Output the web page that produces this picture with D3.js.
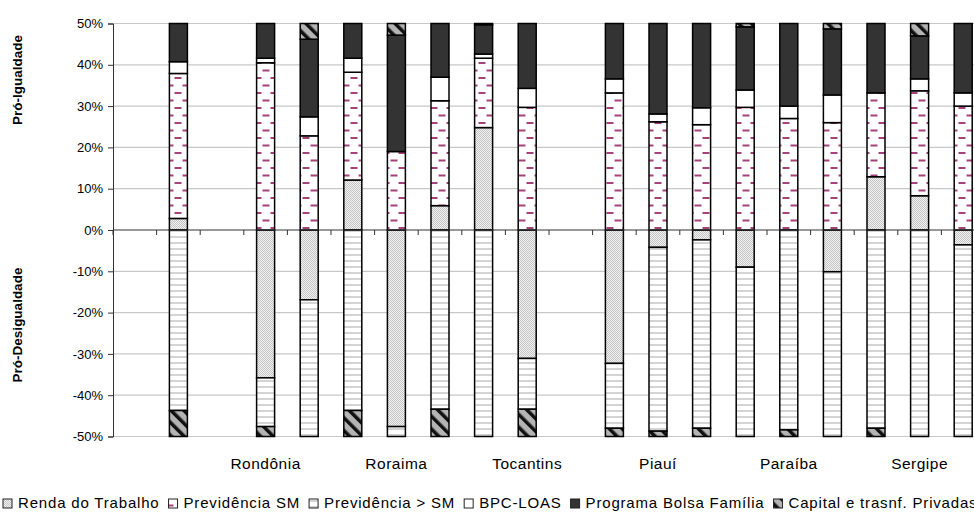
<!DOCTYPE html>
<html>
<head>
<meta charset="utf-8">
<title>Pró-Igualdade / Pró-Desigualdade</title>
<script src="https://cdn.jsdelivr.net/npm/d3@7/dist/d3.min.js"></script>
<style>
  body { margin: 0; background: #fff; }
  text { font-family: "Liberation Sans", Arial, sans-serif; fill: #000; }
</style>
</head>
<body>
<script>
// categorias (indices sem nome = espacos vazios no grafico)
var categories = ["", "Brasil", "", "Rondônia", "Acre", "Amazonas", "Roraima", "Pará", "Amapá", "Tocantins", "",
                  "Maranhão", "Piauí", "Ceará", "Rio Grande do Norte", "Paraíba", "Pernambuco", "Alagoas", "Sergipe", "Bahia"]
var labelEvery = 3

var seriesNames = ["Renda do Trabalho", "Previdência SM", "Previdência > SM", "BPC-LOAS", "Programa Bolsa Família", "Capital e trasnf. Privadas"]

// contribuicoes (%)
var rendaTrabalho = [null, 2.8, null, -35.8, -16.9, 12.1, -47.6, 5.9, 24.8, -31.1, null, -32.3, -4.2, -2.4, -9.0, 0, -10.1, 12.9, 8.3, -3.6]
var prevSM        = [null, 35.1, null, 40.5, 22.8, 26.1, 19.0, 25.4, 16.8, 29.7, null, 33.2, 26.2, 25.5, 29.7, 27.0, 26.0, 20.3, 25.4, 30.0]
var prevMaiorSM   = [null, -43.7, null, -11.8, -33.1, -43.7, -2.4, -43.4, -50.0, -12.3, null, -15.7, -44.5, -45.6, -41.0, -48.4, -39.9, -48.0, -50.0, -46.4]
var bpcLoas       = [null, 2.85, null, 1.1, 4.6, 3.4, 0, 5.7, 1.0, 4.6, null, 3.4, 1.9, 4.1, 4.2, 3.0, 6.7, 0, 2.9, 3.2]
var bolsaFamilia  = [null, 9.25, null, 8.4, 18.8, 8.4, 28.2, 13.0, 7.1, 15.7, null, 13.4, 21.9, 20.4, 15.3, 20.0, 16.0, 16.8, 10.4, 16.8]
var capital       = [null, -6.3, null, -2.4, 3.8, -6.3, 2.8, -6.6, 0.3, -6.6, null, -2.0, -1.3, -2.0, 0.8, -1.6, 1.3, -2.0, 3.0, 0]

var yTicks = [-50, -40, -30, -20, -10, 0, 10, 20, 30, 40, 50]

var width = 974
var height = 519
var plotLeft = 113, plotTop = 23.5, plotBottom = 436.5
var catW = 43.6
var barW = 18

var allSeries = [rendaTrabalho, prevSM, prevMaiorSM, bpcLoas, bolsaFamilia, capital]
var rows = categories.map(function(c, i) {
    var r = {idx: i}
    seriesNames.forEach(function(s, k) { r[s] = allSeries[k][i] || 0 })
    return r
})

var svg = d3.select("body").append("svg").attr("width", width).attr("height", height)
var defs = svg.append("defs")

// padroes de preenchimento
var p = defs.append("pattern").attr("id", "pat0").attr("patternUnits", "userSpaceOnUse").attr("width", 2).attr("height", 2)
p.append("rect").attr("width", 2).attr("height", 2).attr("fill", "#f2f2f2")
p.append("rect").attr("width", 1).attr("height", 1).attr("fill", "#c4c4c4")
p.append("rect").attr("x", 1).attr("y", 1).attr("width", 1).attr("height", 1).attr("fill", "#c4c4c4")

p = defs.append("pattern").attr("id", "pat1").attr("patternUnits", "userSpaceOnUse").attr("width", 16).attr("height", 15).attr("x", 170)
p.append("rect").attr("width", 16).attr("height", 15).attr("fill", "#fff")
p.append("rect").attr("x", 4.5).attr("y", 2).attr("width", 7).attr("height", 2).attr("fill", "#a5427a")
p.append("rect").attr("x", -3.5).attr("y", 9.5).attr("width", 7).attr("height", 2).attr("fill", "#a5427a")
p.append("rect").attr("x", 12.5).attr("y", 9.5).attr("width", 7).attr("height", 2).attr("fill", "#a5427a")

p = defs.append("pattern").attr("id", "pat2").attr("patternUnits", "userSpaceOnUse").attr("width", 6).attr("height", 6)
p.append("rect").attr("width", 6).attr("height", 6).attr("fill", "#fff")
p.append("rect").attr("y", 2).attr("width", 6).attr("height", 2).attr("fill", "#d4d4d4")

p = defs.append("pattern").attr("id", "pat5").attr("patternUnits", "userSpaceOnUse").attr("width", 9).attr("height", 9)
    .attr("patternTransform", "rotate(-45)")
p.append("rect").attr("width", 9).attr("height", 9).attr("fill", "#b4b4b4")
p.append("rect").attr("width", 3.5).attr("height", 9).attr("fill", "#111")

var fills = ["url(#pat0)", "url(#pat1)", "url(#pat2)", "#ffffff", "#333333", "url(#pat5)"]

var x = d3.scaleBand().domain(d3.range(categories.length)).range([plotLeft, plotLeft + catW * categories.length])
var y = d3.scaleLinear().domain([-50, 50]).range([plotBottom, plotTop])

// grade
svg.append("g").selectAll("line").data(yTicks.filter(function(d) { return d != 0 })).enter().append("line")
    .attr("x1", plotLeft).attr("x2", width).attr("y1", function(d) { return y(d) }).attr("y2", function(d) { return y(d) })
    .attr("stroke", "#c8c8c8").attr("stroke-width", 1.2)

// eixo y
var yAxis = svg.append("g").attr("transform", "translate(" + plotLeft + ",0)")
    .call(d3.axisLeft(y).tickValues(yTicks).tickSize(5).tickFormat(function(d) { return d + "%" }))
yAxis.select(".domain").attr("stroke", "#333")
yAxis.selectAll(".tick line").attr("stroke", "#333")
yAxis.selectAll("text").attr("font-size", 13).attr("dx", -2)
    .style("font-family", "'Liberation Sans', Arial, sans-serif")

// barras empilhadas
var stack = d3.stack().keys(seriesNames).offset(d3.stackOffsetDiverging)
var layers = stack(rows)

svg.append("g").selectAll("g").data(layers).enter().append("g")
    .attr("fill", function(d, i) { return fills[i] })
    .selectAll("rect")
    .data(function(d) { return d.filter(function(s) { return Math.abs(s[1] - s[0]) > 0.01 }) })
    .enter().append("rect")
    .attr("x", function(d) { return x(d.data.idx) + (catW - barW) / 2 })
    .attr("width", barW)
    .attr("y", function(d) { return y(Math.max(d[0], d[1])) })
    .attr("height", function(d) { return Math.abs(y(d[0]) - y(d[1])) })
    .attr("stroke", "#000").attr("stroke-width", 1.5)

// eixo x na linha do zero
var xAxis = svg.append("g").attr("transform", "translate(0," + y(0) + ")")
xAxis.append("line").attr("x1", plotLeft).attr("x2", width).attr("stroke", "#333").attr("stroke-width", 1.2)
xAxis.selectAll(".tk").data(d3.range(categories.length + 1)).enter().append("line")
    .attr("x1", function(i) { return plotLeft + i * catW }).attr("x2", function(i) { return plotLeft + i * catW })
    .attr("y1", 0).attr("y2", 5).attr("stroke", "#333")

svg.append("g").selectAll("text")
    .data(categories.map(function(c, i) { return {c: c, i: i} }).filter(function(d) { return d.i % labelEvery == 0 && d.c }))
    .enter().append("text")
    .attr("x", function(d) { return x(d.i) + catW / 2 }).attr("y", 469)
    .attr("text-anchor", "middle").attr("font-size", 15.5).attr("letter-spacing", 0.5)
    .text(function(d) { return d.c })

// titulos do eixo y
svg.append("text").attr("transform", "translate(22,80) rotate(-90)").attr("text-anchor", "middle")
    .attr("font-size", 13.5).attr("font-weight", "bold").text("Pró-Igualdade")
svg.append("text").attr("transform", "translate(22,325) rotate(-90)").attr("text-anchor", "middle")
    .attr("font-size", 13.5).attr("font-weight", "bold").text("Pró-Desigualdade")

// legenda
var lx = 3
var legend = svg.append("g")
seriesNames.forEach(function(s, i) {
    legend.append("rect").attr("x", lx).attr("y", 499).attr("width", 9).attr("height", 9)
        .attr("fill", fills[i]).attr("stroke", "#222").attr("stroke-width", 1)
    var t = legend.append("text").attr("x", lx + 15).attr("y", 508).attr("font-size", 15)
        .attr("letter-spacing", 0.82).text(s)
    lx = lx + 15 + t.node().getComputedTextLength() + 9
})
</script>
</body>
</html>
